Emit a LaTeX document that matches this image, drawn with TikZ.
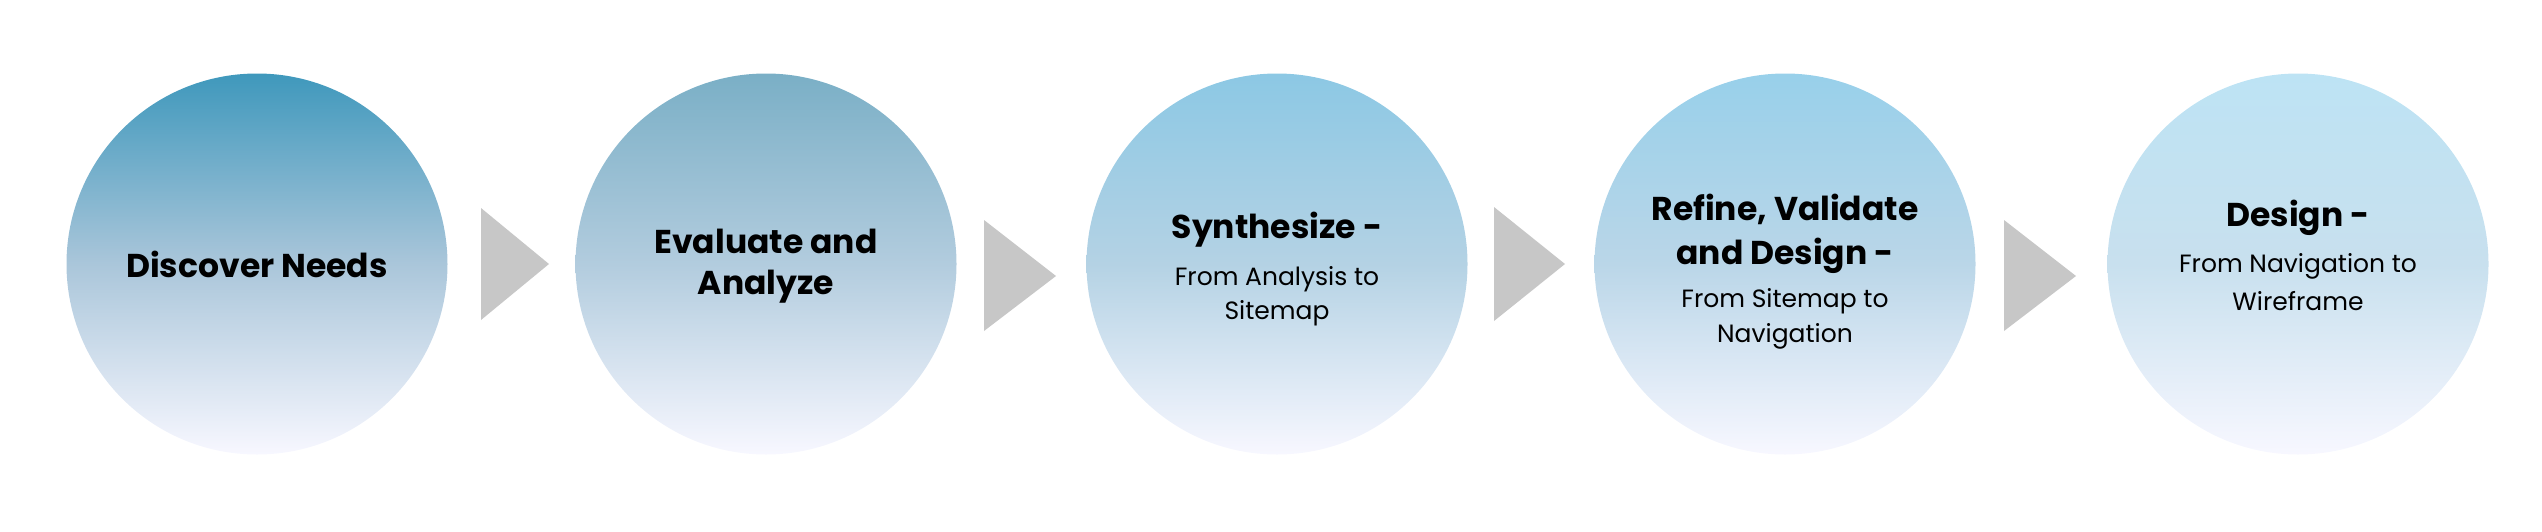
\documentclass[tikz,border=0pt]{standalone}
\usepackage{fontspec}
\setmainfont{Poppins}
\begin{document}
\begin{tikzpicture}[x=1pt,y=-1pt,
  bubble/.style={circle,minimum size=381pt,inner sep=0pt,draw=none,shading=axis,shading angle=0,bottom color=white!97!blue},
  ttl/.style={font=\bfseries\fontsize{33}{40}\selectfont,text=black,align=center,anchor=center},
  sub/.style={font=\fontsize{25}{34}\selectfont,text=black,align=center,anchor=center},
  tri/.style={fill=black!22,draw=none}]
\useasboundingbox (0,0) rectangle (2542,531);
\node[bubble,top color={rgb,255:red,63;green,152;blue,188},middle color={rgb,255:red,170;green,198;blue,218}] (c1) at (257,264) {};
\node[bubble,top color={rgb,255:red,122;green,175;blue,198},middle color={rgb,255:red,178;green,204;blue,222}] (c2) at (766,264) {};
\node[bubble,top color={rgb,255:red,140;green,200;blue,228},middle color={rgb,255:red,180;green,210;blue,228}] (c3) at (1277,264) {};
\node[bubble,top color={rgb,255:red,152;green,208;blue,234},middle color={rgb,255:red,186;green,214;blue,232}] (c4) at (1785,264) {};
\node[bubble,top color={rgb,255:red,189;green,227;blue,244},middle color={rgb,255:red,200;green,224;blue,238}] (c5) at (2298,264) {};
\node[ttl] (t1) at (257,264) {Discover Needs};
\node[ttl] (t2a) at (766,241) {Evaluate and};
\node[ttl] (t2b) at (766,287) {Analyze};
\node[ttl] (t3) at (1277,230) {Synthesize -};
\node[sub] (s3a) at (1277,279) {From Analysis to};
\node[sub] (s3b) at (1277,313) {Sitemap};
\node[ttl] (t4a) at (1785,209) {Refine, Validate};
\node[ttl] (t4b) at (1785,256) {and Design -};
\node[sub] (s4a) at (1785,301) {From Sitemap to};
\node[sub] (s4b) at (1785,336) {Navigation};
\node[ttl] (t5) at (2298,218) {Design -};
\node[sub] (s5a) at (2298,266) {From Navigation to};
\node[sub] (s5b) at (2298,301) {Wireframe};
\fill[tri] (481,208) -- (549,264) -- (481,320) -- cycle;
\fill[tri] (984,220) -- (1056,276) -- (984,331) -- cycle;
\fill[tri] (1494,207) -- (1565,264) -- (1494,321) -- cycle;
\fill[tri] (2004,220) -- (2076,276) -- (2004,331) -- cycle;
\end{tikzpicture}
\end{document}
